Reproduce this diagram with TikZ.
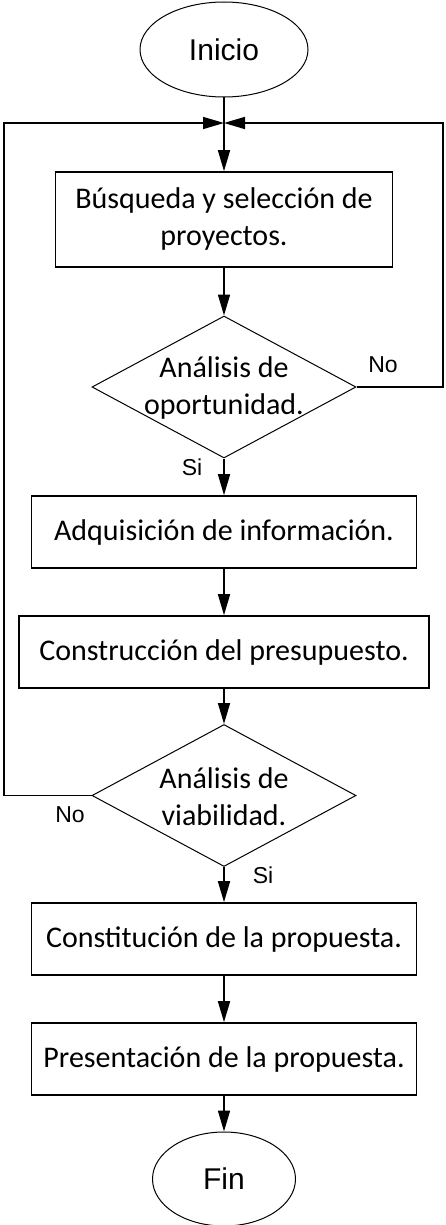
\documentclass[tikz,border=0pt]{standalone}
\usepackage{fontspec}
\setmainfont{Carlito}
\newfontfamily\arialfont{Liberation Sans}
\usetikzlibrary{shapes.geometric,arrows.meta}

\begin{document}
\begin{tikzpicture}[x=1pt,y=-1pt,
  box/.style={draw,line width=1.6pt,inner sep=0pt,align=center,font=\fontsize{30}{37}\selectfont},
  term/.style={draw,ellipse,line width=1pt,inner sep=0pt,font=\arialfont\fontsize{30}{36}\selectfont},
  decision/.style={draw,diamond,line width=1pt,inner sep=0pt,minimum width=264pt,minimum height=142pt},
  txt/.style={align=center,inner sep=0pt,font=\fontsize{30}{37}\selectfont},
  lbl/.style={inner sep=0pt,font=\arialfont\fontsize{23}{27}\selectfont},
  flecha/.style={line width=1.6pt,-{Triangle[length=21pt,width=12pt]}}]
\useasboundingbox (0,0) rectangle (445,1225);
\node[term,minimum width=168pt,minimum height=95pt] (ini) at (224,49.5) {Inicio};
\node[box,minimum width=337pt,minimum height=95pt] (bus) at (224,219.5) {Búsqueda y selección de\\proyectos.};
\node[decision] (opo) at (224,387) {};
\node[txt] (opotxt) at (224,388) {Análisis de\\oportunidad.};
\node[box,minimum width=385pt,minimum height=72pt] (adq) at (224,532) {Adquisición de información.};
\node[box,minimum width=410pt,minimum height=72pt] (pre) at (224,652) {Construcción del presupuesto.};
\node[decision] (via) at (224,795.5) {};
\node[txt] (viatxt) at (224,797) {Análisis de\\viabilidad.};
\node[box,minimum width=385pt,minimum height=72pt] (con) at (224,939) {Constitución de la propuesta.};
\node[box,minimum width=385pt,minimum height=72pt] (pro) at (224,1059) {Presentación de la propuesta.};
\node[term,minimum width=143pt,minimum height=94pt] (fin) at (224,1179) {Fin};
\coordinate (j) at (224,123);
\coordinate (der) at (443,123);
\coordinate (izq) at (4,123);
\draw[line width=1.6pt] (ini) -- (j);
\draw[flecha] (j) -- (bus);
\draw[flecha] (bus) -- (opo);
\draw[flecha] (opo) -- (adq);
\draw[flecha] (adq) -- (pre);
\draw[flecha] (pre) -- (via);
\draw[flecha] (via) -- (con);
\draw[flecha] (con) -- (pro);
\draw[flecha] (pro) -- (fin);
\draw[flecha] (opo.east) -| (der) -- (j);
\draw[flecha] (via.west) -| (izq) -- (j);
\node[lbl] (no1) at (383,365) {No};
\node[lbl] (si1) at (192,467) {Si};
\node[lbl] (no2) at (70,815) {No};
\node[lbl] (si2) at (263,875) {Si};
\end{tikzpicture}
\end{document}
